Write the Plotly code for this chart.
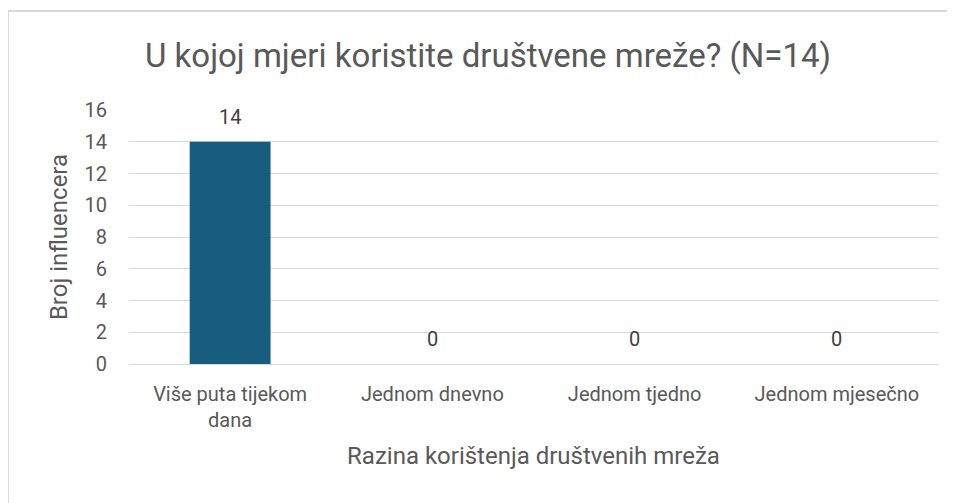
import plotly.graph_objects as go

categories = ["Više puta tijekom<br>dana", "Jednom dnevno", "Jednom tjedno", "Jednom mjesečno"]
values = [14, 0, 0, 0]
y_ticks = [0, 2, 4, 6, 8, 10, 12, 14, 16]

FONT = "Roboto, sans-serif"
TXT = "#595959"

fig = go.Figure()
fig.add_trace(go.Bar(
    x=categories, y=values,
    marker=dict(color="#175D7D", line=dict(width=0)),
    width=0.4,
    cliponaxis=False,
))

for c, v in zip(categories, values):
    fig.add_annotation(x=c, y=v, xref="x", yref="y", text=str(v),
                       showarrow=False, yanchor="middle", yshift=25,
                       font=dict(family=FONT, size=20, color="#404040"))

# page has an 8px body margin; figure placed at (8, 8)
OFF = 8
W, H = 955 - OFF, 503 - OFF
L, R, T, B = 129 - OFF, 17, 110 - OFF, 139
pw, ph = W - L - R, H - T - B

def px(x):  # page x -> paper
    return (x - OFF - L) / pw

def py(y):  # page y -> paper
    return (H - B - (y - OFF)) / ph

fig.add_shape(type="line", xref="paper", yref="paper",
              x0=px(8), x1=px(8), y0=py(11), y1=py(520),
              line=dict(color="#d9d9d9", width=2))
fig.add_shape(type="line", xref="paper", yref="paper",
              x0=px(8), x1=px(970), y0=py(11), y1=py(11),
              line=dict(color="#d9d9d9", width=2))

fig.update_layout(
    width=W, height=H,
    margin=dict(l=L, r=R, t=T, b=B),
    paper_bgcolor="white", plot_bgcolor="white",
    font=dict(family=FONT, color=TXT),
    title=dict(text="U kojoj mjeri koristite društvene mreže? (N=14)",
               x=(488 - OFF) / W, xanchor="center", y=1 - (55 - OFF) / H, yanchor="middle",
               font=dict(family=FONT, size=33, color=TXT)),
    showlegend=False,
)
fig.update_xaxes(
    showgrid=False, showline=False, zeroline=False,
    ticks="outside", ticklen=12, tickcolor="rgba(0,0,0,0)",
    tickfont=dict(family=FONT, size=20, color=TXT),
    title=dict(text="Razina korištenja društvenih mreža",
               font=dict(family=FONT, size=24, color=TXT), standoff=16),
)
fig.update_yaxes(
    range=[0, 16], tickvals=y_ticks,
    showgrid=True, gridcolor="#d9d9d9", gridwidth=1,
    zeroline=True, zerolinecolor="#d9d9d9", zerolinewidth=1,
    showline=False,
    ticks="outside", ticklen=17, tickcolor="rgba(0,0,0,0)",
    tickfont=dict(family=FONT, size=20, color=TXT),
    title=dict(text="Broj influencera",
               font=dict(family=FONT, size=24, color=TXT), standoff=10),
)

fig.write_html("out.html")
